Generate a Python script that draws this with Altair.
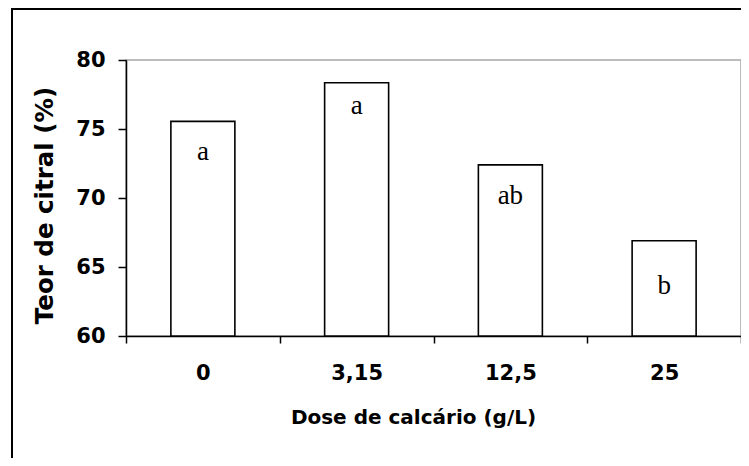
import altair as alt
import pandas as pd

doses = ["0", "3,15", "12,5", "25"]
teor = [75.55, 78.35, 72.4, 66.9]
letters = ["a", "a", "ab", "b"]
letter_y = [72.76, 76.08, 69.58, 63.03]

df = pd.DataFrame({"dose": doses, "teor": teor, "letra": letters, "letra_y": letter_y})

W, H = 615, 276

x_enc = alt.X(
    "dose:N",
    sort=doses,
    scale=alt.Scale(paddingInner=0, paddingOuter=0),
    axis=alt.Axis(
        title="Dose de calcário (g/L)",
        labelAngle=0,
        tickBand="extent",
        tickSize=7,
        labelPadding=19,
        titleX=287,
        titleY=87,
        titleBaseline="alphabetic",
        titleAlign="center",
        titleFontSize=20,
    ),
)
y_scale = alt.Scale(domain=[60, 80], nice=False, zero=False)
y_enc = alt.Y(
    "teor:Q",
    scale=y_scale,
    axis=alt.Axis(
        title="Teor de citral (%)",
        values=[60, 65, 70, 75, 80],
        grid=False,
        tickSize=8,
        labelPadding=13,
        titleX=-81,
        titleY=145,
        titleAngle=270,
        titleBaseline="middle",
        titleAlign="center",
        titleFontSize=24.5,
    ),
)

frame = alt.Chart(alt.Data(values=[{}])).mark_rect(
    fillOpacity=0, stroke="black", strokeWidth=2
).encode(
    x=alt.value(-114), x2=alt.value(800), y=alt.value(-51), y2=alt.value(700)
)

bars = alt.Chart(df).mark_bar(
    size=64, fill="white", stroke="black", strokeWidth=1.6
).encode(x=x_enc, y=y_enc, y2=alt.datum(60))

labels = alt.Chart(df).mark_text(
    font="Liberation Serif", fontSize=27, color="black", baseline="alphabetic"
).encode(
    x=alt.X("dose:N", sort=doses),
    y=alt.Y("letra_y:Q", scale=y_scale),
    text="letra:N",
)

chart = alt.layer(frame, bars, labels).properties(
    width=W,
    height=H,
    autosize=alt.AutoSizeParams(type="none"),
    padding={"left": 118, "top": 52, "right": 0, "bottom": 122},
).configure_view(
    stroke="#a6a6a6", strokeWidth=1.5
).configure_axis(
    domainColor="black",
    domainWidth=1.5,
    tickColor="black",
    tickWidth=1.5,
    labelFont="DejaVu Sans",
    labelFontWeight="bold",
    labelFontSize=21,
    labelColor="black",
    titleFont="DejaVu Sans",
    titleFontWeight="bold",
    titleColor="black",
)

chart.save("out.html", embed_options={"renderer": "svg", "actions": False})
